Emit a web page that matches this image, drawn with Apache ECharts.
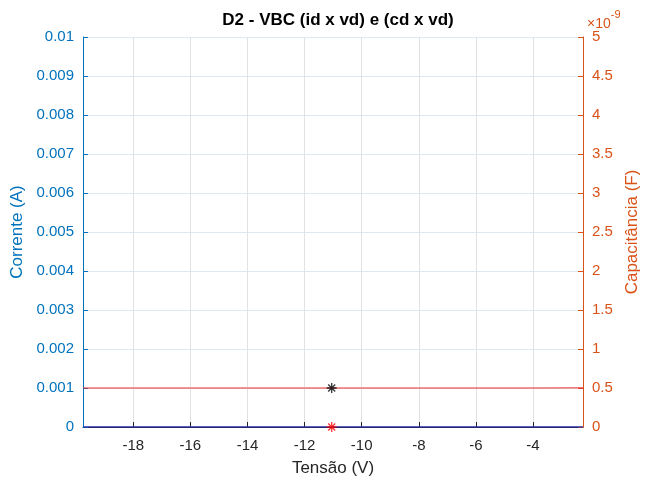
<!DOCTYPE html>
<html>
<head>
<meta charset="utf-8">
<script src="https://cdn.jsdelivr.net/npm/echarts@6/dist/echarts.min.js"></script>
<style>html,body{margin:0;padding:0;background:#fff;}#c{width:649px;height:482px;}</style>
</head>
<body>
<div id="c"></div>
<script>
// ---- data ----
const xTicks = [-18, -16, -14, -12, -10, -8, -6, -4];
const xRange = [-19.76, -2.25];
const vd = [-19.76, -18, -16, -14, -12, -10, -8, -6, -4, -2.25];
const id = [0, 0, 0, 0, 0, 0, 0, 0, 0, 0];
const cd = [0.5e-9, 0.5e-9, 0.5e-9, 0.5e-9, 0.5e-9, 0.5e-9, 0.5e-9, 0.5e-9, 0.5e-9, 0.502e-9];
const opX = [-11.05];
const opIdBlack = [0.001];
const opIdRed = [0];

const FONT = 'Liberation Sans';
const BLUE = '#0072BD', ORANGE = '#D95319', DARK = '#262626';
const star = 'path://M5,0L5,10M0,5L10,5M1.5,1.5L8.5,8.5M1.5,8.5L8.5,1.5';

const chart = echarts.init(document.getElementById('c'));
chart.setOption({
  backgroundColor: '#fff',
  animation: false,
  title: {
    text: 'D2 - VBC (id x vd) e (cd x vd)',
    left: 333, top: 7, textAlign: 'center',
    textStyle: {fontFamily: FONT, fontSize: 17, fontWeight: 'bold', color: '#000'}
  },
  grid: {left: 83, right: 66, top: 37, bottom: 47, containLabel: false},
  xAxis: {
    type: 'value', min: xRange[0], max: xRange[1],
    name: 'Tensão (V)', nameLocation: 'middle', nameGap: 33,
    nameTextStyle: {fontFamily: FONT, fontSize: 17, color: DARK},
    axisLine: {show: true, lineStyle: {color: DARK, width: 1}},
    axisTick: {show: true, inside: true, length: 5, lineStyle: {color: DARK}, customValues: xTicks},
    axisLabel: {fontFamily: FONT, fontSize: 15, color: DARK, margin: 11, customValues: xTicks},
    splitLine: {show: true, lineStyle: {color: '#e2e2e2', width: 1}, customValues: xTicks}
  },
  yAxis: [{
    type: 'value', min: 0, max: 0.01, interval: 0.001, position: 'left',
    name: 'Corrente (A)', nameLocation: 'middle', nameGap: 49, nameRotate: 90,
    nameTextStyle: {fontFamily: FONT, fontSize: 17, color: BLUE},
    axisLine: {show: true, lineStyle: {color: BLUE, width: 1}},
    axisTick: {show: true, inside: true, length: 5, lineStyle: {color: BLUE}},
    axisLabel: {fontFamily: FONT, fontSize: 15, color: BLUE, margin: 9,
      formatter: v => String(+v.toFixed(3))},
    splitLine: {show: true, lineStyle: {color: '#dce8f2', width: 1}}
  }, {
    type: 'value', min: 0, max: 5e-9, interval: 0.5e-9, position: 'right',
    name: 'Capacitância (F)', nameLocation: 'middle', nameGap: 37, nameRotate: 90,
    nameTextStyle: {fontFamily: FONT, fontSize: 17, color: ORANGE},
    axisLine: {show: true, lineStyle: {color: ORANGE, width: 1}},
    axisTick: {show: true, inside: true, length: 5, lineStyle: {color: ORANGE}},
    axisLabel: {fontFamily: FONT, fontSize: 15, color: ORANGE, margin: 9,
      formatter: v => String(+(v * 1e9).toFixed(1))},
    splitLine: {show: false}
  }],
  graphic: [{
    type: 'text', left: 587, top: 9,
    style: {
      text: '{a|×10}{b|-9}', fill: ORANGE,
      rich: {
        a: {fontFamily: FONT, fontSize: 14, fill: ORANGE, verticalAlign: 'bottom', lineHeight: 22},
        b: {fontFamily: FONT, fontSize: 11, fill: ORANGE, verticalAlign: 'top', lineHeight: 22}
      }
    }
  }],
  series: [{
    type: 'line', yAxisIndex: 0, data: vd.map((x, i) => [x, id[i]]),
    symbol: 'none', lineStyle: {color: '#2a2aa6', width: 1.5}, z: 3
  }, {
    type: 'line', yAxisIndex: 1, data: vd.map((x, i) => [x, cd[i]]),
    symbol: 'none', lineStyle: {color: '#ee2a2a', width: 1}, z: 3
  }, {
    type: 'scatter', yAxisIndex: 0, data: opX.map((x, i) => [x, opIdBlack[i]]),
    symbol: star, symbolSize: 10,
    itemStyle: {color: 'none', borderColor: '#000', borderWidth: 1.3}, z: 5
  }, {
    type: 'scatter', yAxisIndex: 0, data: opX.map((x, i) => [x, opIdRed[i]]),
    symbol: star, symbolSize: 10,
    itemStyle: {color: 'none', borderColor: '#ff0000', borderWidth: 1.3}, z: 5
  }]
});
</script>
</body>
</html>
